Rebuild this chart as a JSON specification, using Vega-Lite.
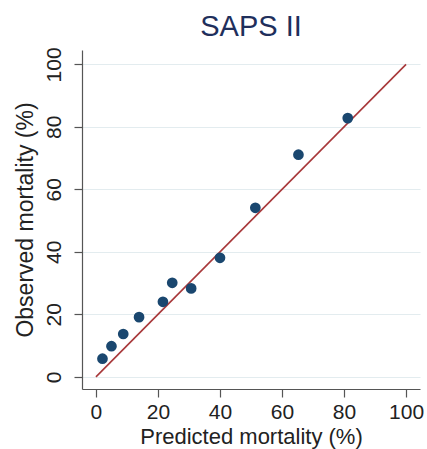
{
  "$schema": "https://vega.github.io/schema/vega-lite/v6.json",
  "autosize": "none",
  "width": 338,
  "height": 339,
  "padding": {"left": 82, "top": 50, "right": 7, "bottom": 60},
  "background": "white",
  "config": {
    "view": {"stroke": null},
    "font": "Liberation Sans",
    "axis": {
      "domainColor": "#555555",
      "tickColor": "#555555",
      "domainWidth": 1.2,
      "tickWidth": 1.2,
      "tickSize": 8,
      "labelColor": "#222222",
      "titleColor": "#222222",
      "labelFont": "Liberation Sans",
      "titleFont": "Liberation Sans",
      "labelFontSize": 21,
      "titleFontWeight": "normal",
      "gridColor": "#e3ecef",
      "gridWidth": 1.2
    }
  },
  "title": {
    "text": "SAPS II",
    "fontSize": 29,
    "fontWeight": "normal",
    "color": "#1f2f5c",
    "anchor": "middle",
    "frame": "group",
    "font": "Liberation Sans",
    "offset": 5
  },
  "datasets": {
    "points": [
      {"predicted": 2.1, "observed": 5.8},
      {"predicted": 5.0, "observed": 9.8},
      {"predicted": 8.8, "observed": 13.7},
      {"predicted": 13.9, "observed": 19.1},
      {"predicted": 21.6, "observed": 24.0},
      {"predicted": 24.6, "observed": 30.1},
      {"predicted": 30.7, "observed": 28.3},
      {"predicted": 40.0, "observed": 38.1},
      {"predicted": 51.4, "observed": 54.1},
      {"predicted": 65.3, "observed": 71.1},
      {"predicted": 81.2, "observed": 82.8}
    ],
    "diag": [
      {"predicted": 0, "observed": 0},
      {"predicted": 100, "observed": 100}
    ]
  },
  "encoding": {
    "x": {
      "field": "predicted",
      "type": "quantitative",
      "scale": {"domain": [-4.5, 104.5], "nice": false, "zero": false},
      "axis": {
        "title": "Predicted mortality (%)",
        "titleFontSize": 22,
        "values": [0, 20, 40, 60, 80, 100],
        "grid": false,
        "labelPadding": 4,
        "titlePadding": 4
      }
    },
    "y": {
      "field": "observed",
      "type": "quantitative",
      "scale": {"domain": [-3.9, 104.6], "nice": false, "zero": false},
      "axis": {
        "title": "Observed mortality (%)",
        "titleFontSize": 23,
        "values": [0, 20, 40, 60, 80, 100],
        "grid": true,
        "labelAngle": -90,
        "labelPadding": 10,
        "titlePadding": 6
      }
    }
  },
  "layer": [
    {
      "data": {"name": "diag"},
      "mark": {"type": "line", "color": "#a8383a", "strokeWidth": 1.6, "clip": false}
    },
    {
      "data": {"name": "points"},
      "mark": {"type": "point", "filled": true, "color": "#1a476f", "size": 115, "opacity": 1}
    }
  ]
}
